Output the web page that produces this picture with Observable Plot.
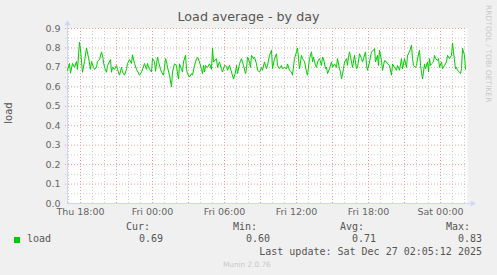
<!DOCTYPE html>
<html><head><meta charset="utf-8">
<script src="https://cdn.jsdelivr.net/npm/d3@7"></script>
<script src="https://cdn.jsdelivr.net/npm/@observablehq/plot@0.6"></script>
<style>
body{margin:0;background:#F0F0F0;}
#wrap{position:relative;width:497px;height:275px;background:#F0F0F0;overflow:hidden;font-family:"DejaVu Sans",sans-serif;color:#666;}
#wrap svg{position:absolute;left:0;top:0;}
.t{position:absolute;white-space:nowrap;line-height:1;}
.mono{font-family:"DejaVu Sans Mono",monospace;font-size:10px;color:#555;}
</style></head><body>
<div id="wrap"></div>
<script>
// ---- data ----
const title = "Load average - by day";
const yLabel = "load";
const seriesName = "load";
const startTime = new Date(Date.UTC(2025, 11, 25, 16, 55)); // Thu 16:55
const stepMinutes = 5;
const totalSteps = 400;
const steps = [0,2,3,5,7,9,10,12,13,15,17,19,21,23,24,26,27,29,30,32,34,35,37,39,40,43,44,45,47,49,50,52,54,55,57,59,60,62,64,65,67,69,72,74,77,79,80,82,84,85,87,88,90,91,93,94,96,98,99,100,102,104,105,107,109,110,111,112,114,115,116,118,119,120,122,124,125,127,129,130,132,134,135,136,137,138,140,142,144,145,146,149,150,152,154,155,157,159,160,162,164,166,168,169,170,172,174,175,176,178,179,180,182,183,184,186,187,189,190,192,194,195,197,199,200,202,204,205,207,209,210,212,214,215,217,219,220,222,224,225,227,229,230,231,232,234,235,237,239,240,242,244,245,246,248,249,250,252,254,255,256,258,259,260,262,264,265,267,269,270,272,273,274,276,277,279,280,281,282,284,285,287,289,290,292,294,295,296,298,299,300,302,303,304,306,307,308,310,311,312,314,315,317,319,320,322,324,325,327,329,330,332,334,335,337,339,340,342,344,345,346,348,349,350,352,353,354,355,356,357,358,360,361,362,363,364,366,367,368,370,371,372,374,375,377,379,380,382,384,385,386,388,389,390,392,393,394,395,397,398];
const load = [0.685,0.72,0.67,0.72,0.70,0.73,0.69,0.83,0.79,0.675,0.73,0.80,0.75,0.69,0.73,0.70,0.69,0.70,0.73,0.74,0.78,0.76,0.70,0.675,0.71,0.74,0.675,0.70,0.69,0.71,0.69,0.66,0.70,0.675,0.66,0.69,0.72,0.74,0.72,0.765,0.72,0.69,0.66,0.675,0.72,0.69,0.72,0.69,0.676,0.745,0.73,0.68,0.753,0.73,0.69,0.676,0.66,0.745,0.73,0.70,0.66,0.60,0.676,0.718,0.71,0.668,0.64,0.718,0.69,0.676,0.728,0.762,0.69,0.668,0.65,0.668,0.66,0.71,0.745,0.753,0.728,0.69,0.668,0.71,0.676,0.71,0.70,0.718,0.69,0.80,0.728,0.745,0.70,0.728,0.69,0.676,0.71,0.705,0.685,0.71,0.676,0.64,0.676,0.71,0.668,0.718,0.745,0.728,0.71,0.668,0.693,0.753,0.728,0.70,0.762,0.745,0.753,0.718,0.685,0.676,0.70,0.685,0.728,0.693,0.71,0.762,0.788,0.693,0.745,0.77,0.71,0.693,0.71,0.693,0.70,0.693,0.718,0.685,0.676,0.66,0.745,0.78,0.80,0.745,0.693,0.762,0.745,0.73,0.676,0.66,0.745,0.78,0.728,0.753,0.71,0.70,0.728,0.745,0.71,0.753,0.745,0.693,0.70,0.668,0.693,0.728,0.70,0.718,0.70,0.745,0.693,0.676,0.64,0.693,0.728,0.745,0.71,0.753,0.78,0.728,0.70,0.762,0.693,0.70,0.77,0.745,0.728,0.745,0.78,0.71,0.685,0.728,0.753,0.78,0.788,0.797,0.728,0.762,0.71,0.788,0.736,0.685,0.735,0.728,0.718,0.71,0.66,0.718,0.70,0.685,0.71,0.685,0.745,0.693,0.745,0.70,0.762,0.78,0.814,0.745,0.71,0.70,0.71,0.745,0.788,0.71,0.676,0.64,0.676,0.718,0.693,0.728,0.676,0.745,0.71,0.718,0.728,0.762,0.745,0.736,0.745,0.70,0.728,0.693,0.71,0.728,0.762,0.745,0.762,0.825,0.78,0.693,0.70,0.685,0.676,0.668,0.693,0.797,0.762,0.69];
const yTicks = [0,0.1,0.2,0.3,0.4,0.5,0.6,0.7,0.8,0.9];
const statHeads = ["Cur:","Min:","Avg:","Max:"];
const statVals = ["0.69","0.60","0.71","0.83"];
const lastUpdate = "Last update: Sat Dec 27 02:05:12 2025";
const footer = "Munin 2.0.76";
const watermark = "RRDTOOL / TOBI OETIKER";

// ---- build ----
const endTime = new Date(+startTime + totalSteps*stepMinutes*60000);
const data = steps.map((s,i)=>({time:new Date(+startTime + s*stepMinutes*60000), load:load[i]}));
const hours = d3.utcHour.range(startTime, endTime);
const minorX = hours.filter(d=>d.getUTCHours()%3!==0);
const majorX = hours.filter(d=>d.getUTCHours()%3===0);
const labelX = hours.filter(d=>d.getUTCHours()%6===0);
const minorY = yTicks.slice(0,-1).map(v=>v+0.05);
const days = ["Sun","Mon","Tue","Wed","Thu","Fri","Sat"];
const fmtX = d => days[d.getUTCDay()]+" "+d3.utcFormat("%H:%M")(d);
const RED = "#eaa0a0", GRAY = "#cfcfcf", AXIS = "#CFD6F8", GREEN = "#00CC00";

const chart = Plot.plot({
  width: 497, height: 220,
  marginLeft: 67, marginRight: 30, marginTop: 28, marginBottom: 17,
  style: {background:"transparent", fontFamily:"DejaVu Sans", fontSize:"9.5px", color:"#666", overflow:"visible"},
  x: {type:"utc", domain:[startTime, endTime]},
  y: {domain:[0, 0.9]},
  marks: [
    Plot.frame({fill:"white", stroke:null}),
    Plot.ruleX(minorX, {stroke:GRAY, strokeDasharray:"1,2", insetBottom:-2}),
    Plot.ruleY(minorY, {stroke:GRAY, strokeDasharray:"1,2", insetLeft:-2}),
    Plot.ruleX(majorX, {stroke:RED, strokeDasharray:"1,2", insetBottom:-2}),
    Plot.ruleY(yTicks.slice(1), {stroke:RED, strokeDasharray:"1,2", insetLeft:-2}),
    Plot.ruleY([0], {stroke:AXIS, insetRight:-3}),
    Plot.ruleX([startTime], {stroke:AXIS, insetTop:-4}),
    Plot.dot([endTime], {x:d=>d, y:[0], dx:5, symbol:"triangle", rotate:90, r:2.3, fill:AXIS, stroke:null}),
    Plot.dot([startTime], {x:d=>d, y:[0.9], dy:-5, symbol:"triangle", r:2.3, fill:AXIS, stroke:null}),
    Plot.line(data, {x:"time", y:"load", stroke:GREEN, strokeWidth:1}),
    Plot.axisX(labelX, {tickSize:0, tickPadding:5, tickFormat:fmtX, label:null, fill:"#666"}),
    Plot.axisY(yTicks, {tickSize:0, tickPadding:7, tickFormat:d3.format(".1f"), label:null, fill:"#666"})
  ]
});
const wrap = document.getElementById("wrap");
wrap.appendChild(chart);

function addText(txt, cls, css){
  const d = document.createElement("div");
  d.className = "t " + (cls||"");
  d.textContent = txt;
  Object.assign(d.style, css);
  wrap.appendChild(d);
  return d;
}
addText(title, "", {left:"0", width:"497px", textAlign:"center", top:"11px", fontSize:"12.7px", color:"#555"});
addText(yLabel, "", {left:"-2px", top:"108px", fontSize:"10px", transform:"rotate(-90deg)", color:"#555"});
addText(watermark, "", {left:"492px", top:"5px", fontSize:"7.4px", color:"#c8c8c8", transform:"rotate(90deg)", transformOrigin:"0 0", letterSpacing:"0.1px"});
// legend
const sq = document.createElement("div");
Object.assign(sq.style,{position:"absolute",left:"14px",top:"237px",width:"6px",height:"6px",background:GREEN});
wrap.appendChild(sq);
addText(seriesName, "mono", {left:"27px", top:"234px"});
const colRight = [150, 257, 364, 470];
const valRight = [163, 270, 376, 482];
statHeads.forEach((h,i)=>addText(h, "mono", {right:(497-colRight[i])+"px", top:"222px"}));
statVals.forEach((v,i)=>addText(v, "mono", {right:(497-valRight[i])+"px", top:"234px"}));
addText(lastUpdate, "mono", {right:(497-482)+"px", top:"247px"});
addText(footer, "", {left:"223px", top:"261px", fontSize:"7.3px", color:"#c8c8c8"});
</script>
</body></html>
